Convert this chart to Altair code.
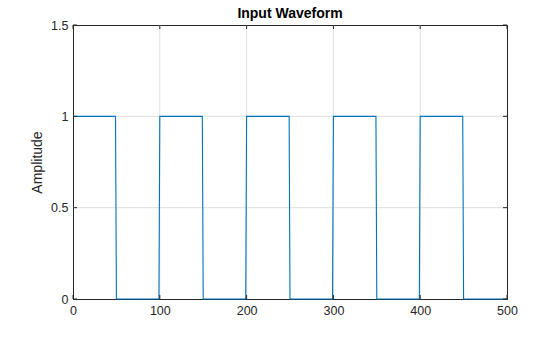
import altair as alt
import pandas as pd

# Square-wave samples at transition points
x_vals = [0, 49, 50, 99, 100, 149, 150, 199, 200, 249, 250, 299,
          300, 349, 350, 399, 400, 449, 450, 500]
y_vals = [1, 1, 0, 0, 1, 1, 0, 0, 1, 1, 0, 0,
          1, 1, 0, 0, 1, 1, 0, 0]

x_ticks = [0, 100, 200, 300, 400, 500]
y_ticks = [0, 0.5, 1, 1.5]
x_grid = [100, 200, 300, 400]
y_grid = [0.5, 1]

W, H = 434, 274
FONT = "Liberation Sans"
DARK = "#262626"
GRID = "#dfdfdf"

wave = pd.DataFrame({"x": x_vals, "y": y_vals})
xt = pd.DataFrame({"x": x_ticks})
yt = pd.DataFrame({"y": y_ticks})
xg = pd.DataFrame({"x": x_grid})
yg = pd.DataFrame({"y": y_grid})

xscale = alt.Scale(domain=[0, 500], nice=False, zero=False)
yscale = alt.Scale(domain=[0, 1.5], nice=False, zero=False)

xaxis = alt.Axis(values=x_ticks, title=None, grid=False, ticks=False, tickSize=0,
                 labelPadding=5, labelFlush=False, format="d")
yaxis = alt.Axis(values=y_ticks, title="Amplitude", grid=False, ticks=False, tickSize=0,
                 labelPadding=5, labelFlush=False, titlePadding=6, format="~g")

X = alt.X("x:Q", scale=xscale, axis=xaxis)
Y = alt.Y("y:Q", scale=yscale, axis=yaxis)

grid_x = alt.Chart(xg).mark_rule(color=GRID, strokeWidth=1).encode(x=X)
grid_y = alt.Chart(yg).mark_rule(color=GRID, strokeWidth=1).encode(y=Y)

line = alt.Chart(wave).mark_line(color="#0072BD", strokeWidth=1.1, interpolate="linear").encode(
    x=X, y=Y)

tick_len = 4
xt_bottom = alt.Chart(xt).mark_rule(color=DARK, strokeWidth=1).encode(
    x=X, y=alt.value(H), y2=alt.value(H - tick_len))
xt_top = alt.Chart(xt).mark_rule(color=DARK, strokeWidth=1).encode(
    x=X, y=alt.value(0), y2=alt.value(tick_len))
yt_left = alt.Chart(yt).mark_rule(color=DARK, strokeWidth=1).encode(
    y=Y, x=alt.value(0), x2=alt.value(tick_len))
yt_right = alt.Chart(yt).mark_rule(color=DARK, strokeWidth=1).encode(
    y=Y, x=alt.value(W), x2=alt.value(W - tick_len))

chart = alt.layer(grid_x, grid_y, line, xt_bottom, xt_top, yt_left, yt_right).properties(
    width=W, height=H,
    background="white",
    title=alt.TitleParams("Input Waveform", fontSize=14, fontWeight="bold", font=FONT,
                          anchor="middle", frame="group", offset=-2, color="#000000"),
    autosize=alt.AutoSizeParams(type="none"),
    padding={"left": 73, "top": 25, "right": 53, "bottom": 38},
).configure_view(stroke=DARK, strokeWidth=1).configure_axis(
    labelFont=FONT, labelFontSize=12.5, labelColor=DARK,
    titleFont=FONT, titleFontSize=14, titleFontWeight="normal", titleColor=DARK,
    domainColor=DARK, domainWidth=1,
)

chart.save("out.html", embed_options={"renderer": "svg", "actions": False})
